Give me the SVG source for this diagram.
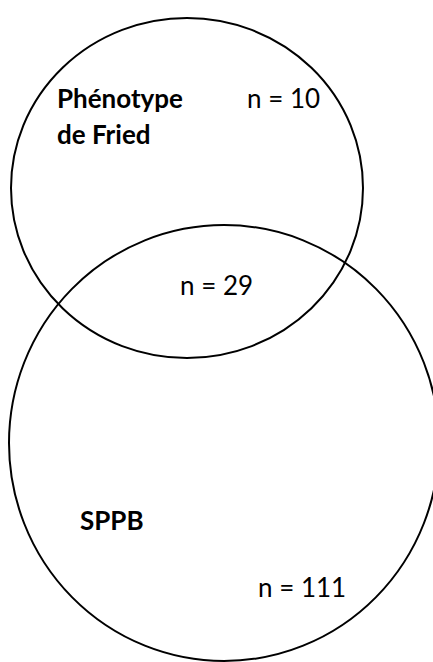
<svg xmlns="http://www.w3.org/2000/svg" width="433" height="662" viewBox="0 0 433 662">
<style>
.c{fill:none;stroke:#000;stroke-width:2}
.t{font-family:Lato,"Liberation Sans",sans-serif;font-size:26px;fill:#000}
.b{font-weight:bold}
</style>
<rect width="433" height="662" fill="#fff"/>
<g id="fried">
<ellipse class="c" cx="187" cy="188" rx="176" ry="170"/>
<text class="t b" x="57" y="108">Phénotype</text>
<text class="t b" x="57" y="144">de Fried</text>
<text class="t" x="247" y="108">n = 10</text>
</g>
<g id="sppb">
<ellipse class="c" cx="224" cy="443" rx="215" ry="218"/>
<text class="t b" x="80" y="530">SPPB</text>
<text class="t" x="258" y="597">n = 111</text>
</g>
<g id="intersection">
<text class="t" x="180" y="295">n = 29</text>
</g>
</svg>
